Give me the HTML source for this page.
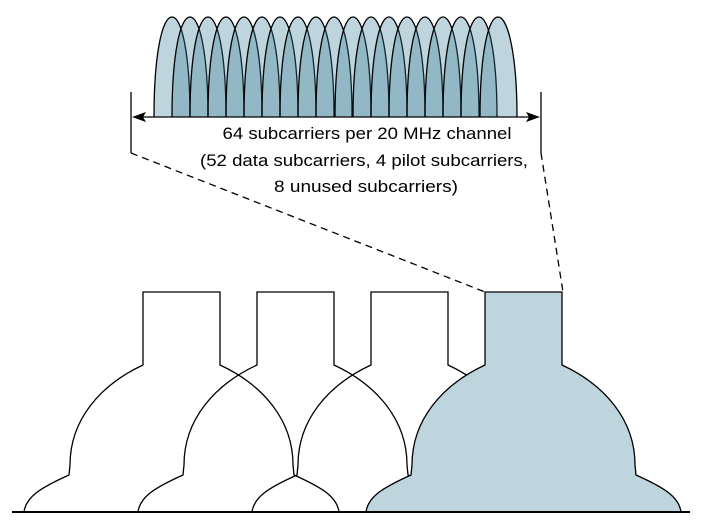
<!DOCTYPE html>
<html><head><style>body{margin:0;background:#fff}svg{display:block}</style></head><body>
<svg width="714" height="523" viewBox="0 0 714 523" xmlns="http://www.w3.org/2000/svg">
<g id="lobes" stroke="#000" stroke-width="1.3" fill="rgba(50,121,146,0.3125)">
<script type="text/javascript"></script>
</g>
<g stroke="#000" stroke-width="1.3" fill="rgba(50,121,146,0.3125)">
<path d="M154,117 C154,55 162,17 172,17 C182,17 190,55 190,117"/>
<path d="M172,117 C172,55 180,17 190,17 C200,17 208,55 208,117"/>
<path d="M190,117 C190,55 198,17 208,17 C218,17 226,55 226,117"/>
<path d="M208,117 C208,55 216,17 226,17 C236,17 244,55 244,117"/>
<path d="M226,117 C226,55 234,17 244,17 C254,17 262,55 262,117"/>
<path d="M244,117 C244,55 252,17 262,17 C272,17 280,55 280,117"/>
<path d="M262,117 C262,55 270,17 280,17 C290,17 298,55 298,117"/>
<path d="M280,117 C280,55 288,17 298,17 C308,17 316,55 316,117"/>
<path d="M298,117 C298,55 306,17 316,17 C326,17 334,55 334,117"/>
<path d="M316,117 C316,55 324,17 334,17 C344,17 352,55 352,117"/>
<path d="M335,117 C335,55 343,17 353,17 C363,17 371,55 371,117"/>
<path d="M353,117 C353,55 361,17 371,17 C381,17 389,55 389,117"/>
<path d="M371,117 C371,55 379,17 389,17 C399,17 407,55 407,117"/>
<path d="M389,117 C389,55 397,17 407,17 C417,17 425,55 425,117"/>
<path d="M407,117 C407,55 415,17 425,17 C435,17 443,55 443,117"/>
<path d="M425,117 C425,55 433,17 443,17 C453,17 461,55 461,117"/>
<path d="M443,117 C443,55 451,17 461,17 C471,17 479,55 479,117"/>
<path d="M461,117 C461,55 469,17 479,17 C489,17 497,55 497,117"/>
<path d="M480,117 C480,55 488,17 498,17 C508,17 517,55 517,117"/>
</g>
<g stroke="#000" stroke-width="1.3" fill="none">
<line x1="131" y1="92" x2="131" y2="153"/>
<line x1="541" y1="92" x2="541" y2="153"/>
<line x1="140" y1="117" x2="532" y2="117"/>
<line x1="131" y1="153" x2="485" y2="292" stroke-dasharray="7,5"/>
<line x1="541" y1="153" x2="563" y2="292" stroke-dasharray="7,5"/>
</g>
<path d="M132,117 L146,112 L143,117 L146,122 Z" fill="#000"/>
<path d="M540,117 L526,112 L529,117 L526,122 Z" fill="#000"/>
<g font-family="Liberation Sans, sans-serif" font-size="17" fill="#000" text-anchor="middle">
<text x="367" y="139" textLength="289" lengthAdjust="spacingAndGlyphs">64 subcarriers per 20 MHz channel</text>
<text x="364" y="166" textLength="328" lengthAdjust="spacingAndGlyphs">(52 data subcarriers, 4 pilot subcarriers,</text>
<text x="366" y="192" textLength="184" lengthAdjust="spacingAndGlyphs">8 unused subcarriers)</text>
</g>
<defs>
<path id="sh" d="M24,512 C26,497 40,488 69,475 L70,465 C70,420 100,385 143,365 L143,292 L220,292 L220,365 C263,385 293,420 293,465 L294,475 C323,488 337,497 339,512"/>
</defs>
<use href="#sh" fill="none" stroke="#000" stroke-width="1.3"/>
<use href="#sh" x="114" fill="none" stroke="#000" stroke-width="1.3"/>
<use href="#sh" x="228" fill="none" stroke="#000" stroke-width="1.3"/>
<use href="#sh" x="342" fill="#bfd5dd" stroke="#000" stroke-width="1.3"/>
<line x1="12" y1="512" x2="690" y2="512" stroke="#000" stroke-width="2"/>
</svg>
</body></html>
